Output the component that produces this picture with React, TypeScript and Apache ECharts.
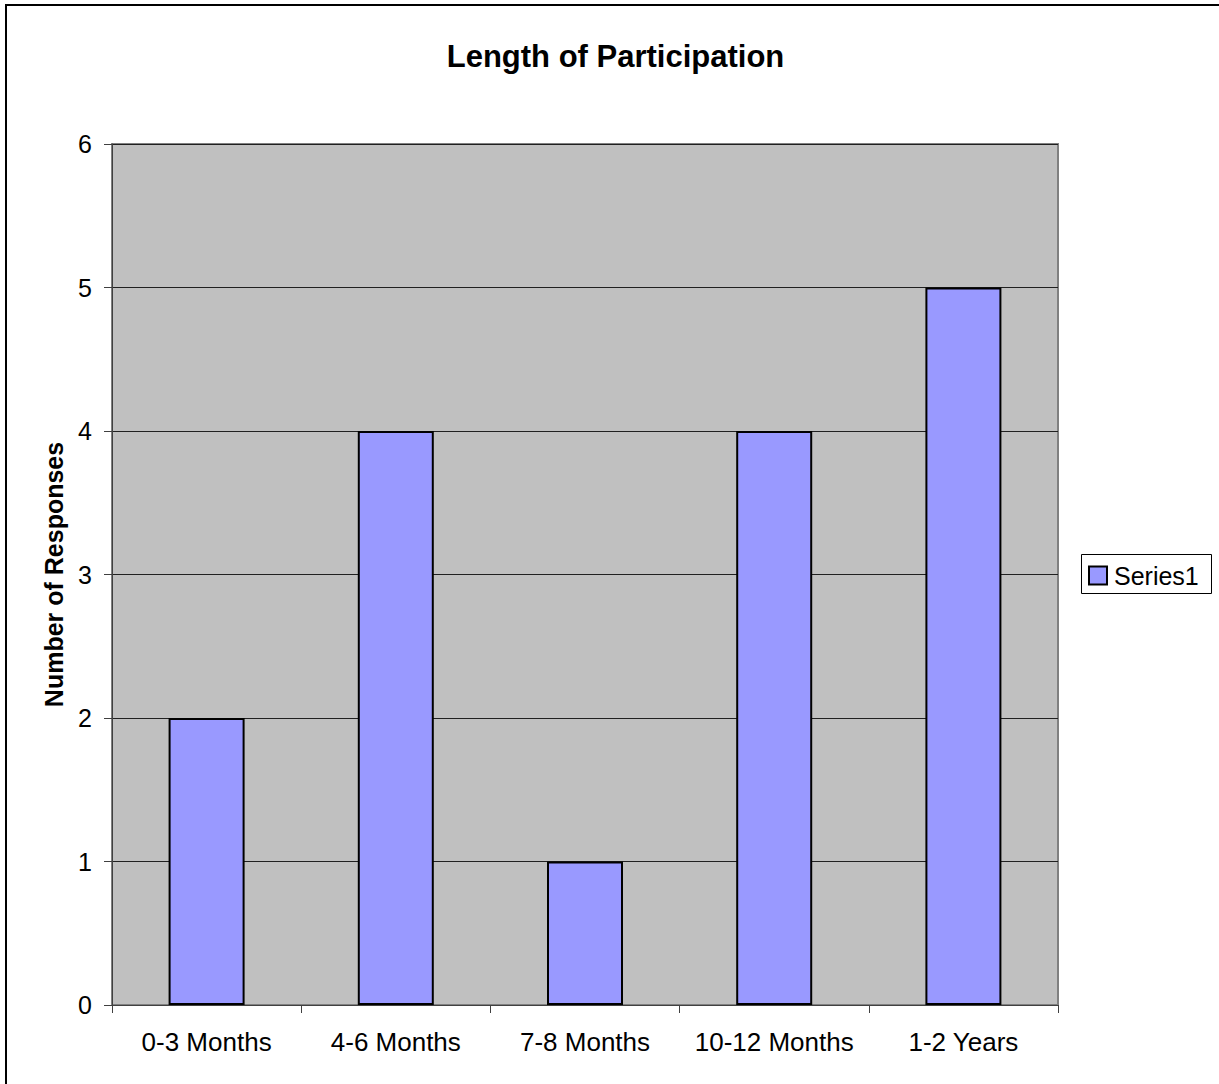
import React, { useEffect, useRef } from "react";
import * as echarts from "echarts";

const categories = ["0-3 Months", "4-6 Months", "7-8 Months", "10-12 Months", "1-2 Years"];
const responses = [2, 4, 1, 4, 5];
const seriesName = "Series1";
const titleText = "Length of Participation";
const yAxisTitle = "Number of Responses";

const FONT = "'Liberation Sans', Arial, Helvetica, sans-serif";

export default function App() {
  const ref = useRef<HTMLDivElement>(null);
  useEffect(() => {
    if (!ref.current) return;
    const chart = echarts.init(ref.current, undefined, { renderer: "svg" });
    chart.setOption({
      animation: false,
      backgroundColor: "#ffffff",
      textStyle: { fontFamily: FONT },
      grid: {
        left: 112,
        top: 144,
        width: 946,
        height: 861,
        show: true,
        backgroundColor: "#C0C0C0",
        borderColor: "#808080",
        borderWidth: 2,
        containLabel: false,
      },
      legend: {
        show: true,
        left: 1088,
        top: 563,
        padding: 0,
        itemWidth: 18,
        itemHeight: 18,
        icon: "rect",
        itemStyle: { color: "#9999FF", borderColor: "#000000", borderWidth: 2 },
        textStyle: { fontFamily: FONT, fontSize: 25, color: "#000", padding: [0, 0, 0, 2] },
        data: [seriesName],
      },
      xAxis: {
        type: "category",
        data: categories,
        boundaryGap: true,
        axisLine: { show: true, lineStyle: { color: "#404040", width: 1 } },
        axisTick: { show: true, length: 8, inside: false, alignWithLabel: false, lineStyle: { color: "#404040" } },
        axisLabel: { fontFamily: FONT, fontSize: 26, color: "#000", margin: 24, interval: 0 },
        splitLine: { show: false },
      },
      yAxis: {
        type: "value",
        min: 0,
        max: 6,
        interval: 1,
        name: yAxisTitle,
        nameLocation: "middle",
        nameRotate: 90,
        nameGap: 46,
        nameTextStyle: { fontFamily: FONT, fontSize: 25, fontWeight: "bold", color: "#000" },
        axisLine: { show: true, lineStyle: { color: "#404040", width: 1 } },
        axisTick: { show: true, length: 8, inside: false, lineStyle: { color: "#404040" } },
        axisLabel: { fontFamily: FONT, fontSize: 25, color: "#000", margin: 20 },
        splitLine: { show: true, lineStyle: { color: "#202020", width: 1 } },
      },
      series: [
        {
          name: seriesName,
          type: "bar",
          data: responses,
          barWidth: 76,
          itemStyle: { color: "#9999FF", borderColor: "#000000", borderWidth: 2 },
        },
      ],
      graphic: [
        {
          type: "rect",
          shape: { x: 6, y: 5, width: 1240, height: 1110 },
          style: { fill: "none", stroke: "#000", lineWidth: 2 },
          silent: true,
        },
        {
          type: "rect",
          shape: { x: 1081.5, y: 554.5, width: 130, height: 39 },
          style: { fill: "#fff", stroke: "#000", lineWidth: 1 },
          z: -1,
          silent: true,
        },
        {
          type: "text",
          x: 615.5,
          y: 41,
          style: {
            text: titleText,
            fontFamily: FONT,
            fontSize: 31,
            fontWeight: "bold",
            fill: "#000",
            textAlign: "center",
            textVerticalAlign: "top",
          },
        },
      ],
    });
    return () => chart.dispose();
  }, []);
  return (
    <div
      ref={ref}
      style={{ position: "absolute", left: 0, top: 0, width: 1219, height: 1084 }}
    />
  );
}
